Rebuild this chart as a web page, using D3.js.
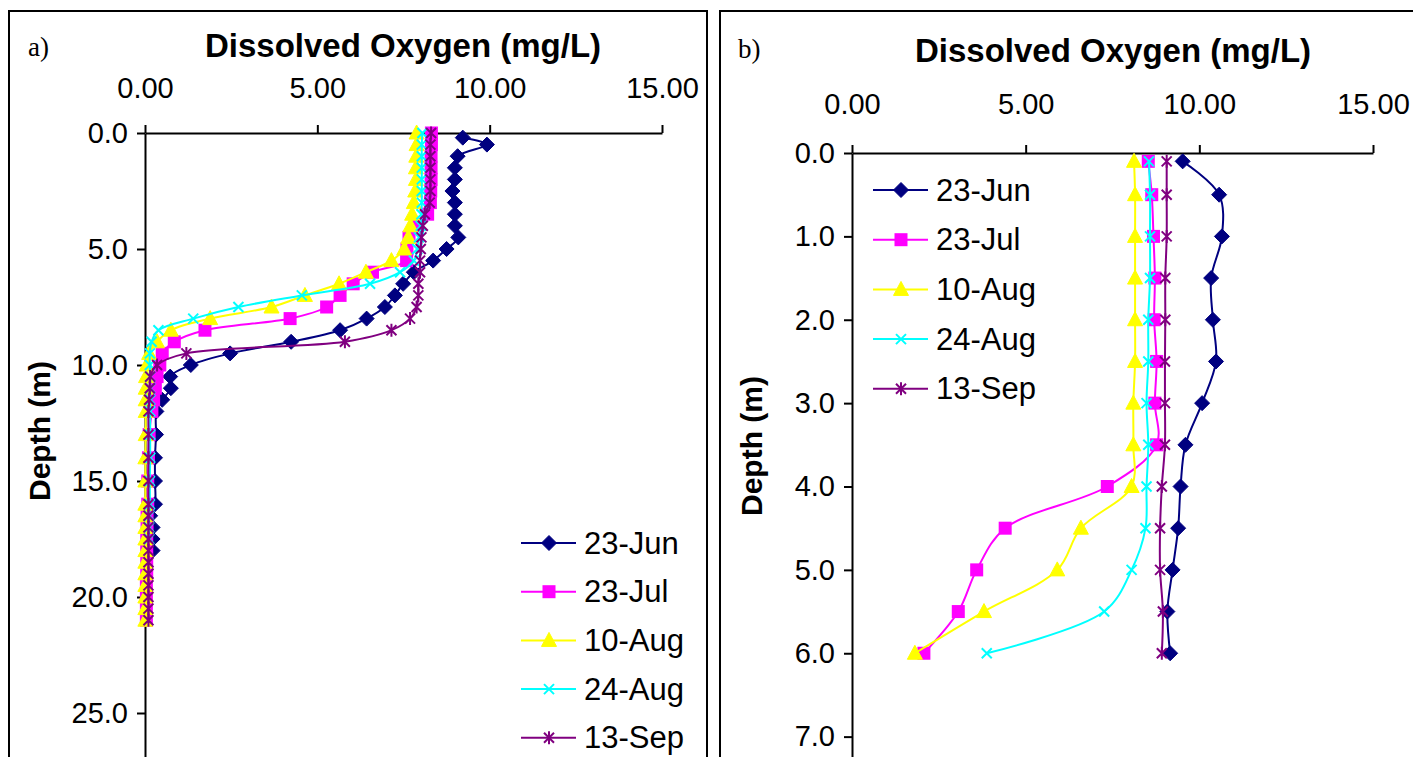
<!DOCTYPE html>
<html>
<head>
<meta charset="utf-8">
<script src="https://cdn.jsdelivr.net/npm/d3@7"></script>
<style>
  body { margin: 0; background: #fff; }
  text { font-family: "Liberation Sans", Arial, sans-serif; fill: #000; }
</style>
</head>
<body>
<div id="chart"></div>
<script>
// Dissolved oxygen profiles, two lakes

var W = 1413, H = 757;

var seriesNames = ["23-Jun", "23-Jul", "10-Aug", "24-Aug", "13-Sep"];
var seriesColors = ["#000080", "#ff00ff", "#ffff00", "#00ffff", "#800080"];
var seriesMarks = ["diamond", "square", "triangle", "cross", "star"];

// panel a) depths (m)
var depthA_jun = [0.2, 0.5, 1, 1.5, 2, 2.5, 3, 3.5, 4, 4.5, 5, 5.5, 6, 6.5, 7, 7.5, 8, 8.5, 9, 9.5, 10, 10.5, 11, 11.5, 12,
  13, 14, 15, 16, 16.5, 17, 17.5, 18];
var depthA_full = [0, 0.5, 1, 1.5, 2, 2.5, 3, 3.5, 4, 4.5, 5, 5.5, 6, 6.5, 7, 7.5, 8, 8.5, 9, 9.5, 10, 10.5, 11, 11.5, 12,
  13, 14, 15, 16, 16.5, 17, 17.5, 18, 18.5, 19, 19.5, 20, 20.5, 21];
var depthA_aug24 = [0, 0.5, 1, 1.5, 2, 2.5, 3, 3.5, 4, 4.5, 5, 5.5, 6, 6.5, 7, 7.5, 8, 8.5, 9, 9.5, 10, 10.5, 11, 11.5, 12,
  13, 14, 15, 16, 16.5, 17, 17.5];

// panel a) dissolved oxygen (mg/L)
var doA_jun = [9.22, 9.92, 9.07, 8.99, 8.99, 8.92, 8.99, 8.99, 8.99, 9.09, 8.75, 8.36, 7.80, 7.49, 7.25, 6.96, 6.43, 5.66,
  4.24, 2.47, 1.33, 0.73, 0.75, 0.50, 0.33, 0.32, 0.29, 0.29, 0.29, 0.15, 0.22, 0.22, 0.22];
var doA_jul = [8.31, 8.31, 8.30, 8.30, 8.30, 8.29, 8.28, 8.20, 7.88, 7.66, 7.60, 7.59, 6.60, 6.04, 5.66, 5.27, 4.21, 1.74,
  0.85, 0.50, 0.43, 0.35, 0.30, 0.25, 0.20, 0.12, 0.10, 0.08, 0.08, 0.06, 0.06, 0.05, 0.05, 0.05, 0.05, 0.04, 0.04, 0.04, 0.04];
var doA_aug10 = [7.88, 7.88, 7.87, 7.86, 7.86, 7.84, 7.80, 7.75, 7.70, 7.64, 7.52, 7.15, 6.41, 5.63, 4.64, 3.67, 1.89, 0.75,
  0.35, 0.12, 0.05, 0.03, 0.02, 0.02, 0.02, 0.02, 0.01, 0.01, 0.01, 0.01, 0.01, 0.01, 0.01, 0.01, 0.01, 0.01, 0.01, 0.01, 0.01];
var doA_aug24 = [8.05, 8.03, 8.03, 8.03, 8.03, 8.03, 8.03, 8.02, 8.00, 7.95, 7.90, 7.80, 7.40, 6.53, 4.55, 2.71, 1.40, 0.39,
  0.19, 0.14, 0.14, 0.15, 0.15, 0.15, 0.15, 0.15, 0.15, 0.14, 0.14, 0.12, 0.12, 0.12];
var doA_sep = [8.30, 8.28, 8.28, 8.28, 8.28, 8.28, 8.26, 8.12, 8.06, 8.02, 8.00, 7.98, 7.98, 7.93, 7.93, 7.88, 7.69, 7.15,
  5.80, 1.20, 0.35, 0.15, 0.14, 0.12, 0.10, 0.10, 0.10, 0.10, 0.10, 0.10, 0.10, 0.10, 0.10, 0.10, 0.10, 0.10, 0.10, 0.10, 0.10];

// panel b) depths and dissolved oxygen
var depthB = [0.1, 0.5, 1, 1.5, 2, 2.5, 3, 3.5, 4, 4.5, 5, 5.5, 6];
var doB_jun = [9.52, 10.57, 10.65, 10.34, 10.39, 10.48, 10.08, 9.60, 9.46, 9.39, 9.23, 9.08, 9.16];
var doB_jul = [8.53, 8.63, 8.68, 8.72, 8.70, 8.77, 8.72, 8.77, 7.35, 4.41, 3.59, 3.06, 2.07];
var doB_aug10 = [8.12, 8.15, 8.15, 8.15, 8.15, 8.15, 8.10, 8.10, 8.05, 6.59, 5.91, 3.80, 1.81];
var doB_aug24 = [8.55, 8.58, 8.58, 8.58, 8.53, 8.53, 8.48, 8.53, 8.48, 8.45, 8.05, 7.26, 3.88];
var doB_sep = [9.06, 9.06, 9.06, 9.02, 9.02, 9.01, 9.01, 9.01, 8.92, 8.87, 8.87, 8.95, 8.92];

var xTicks = [0, 5, 10, 15];
var yTicksA = [0, 5, 10, 15, 20, 25];
var yTicksB = [0, 1, 2, 3, 4, 5, 6, 7];

function zip(depths, vals) {
  return depths.map(function(d, i) { return { depth: d, v: vals[i] }; });
}

var svg = d3.select("#chart").append("svg")
  .attr("width", W)
  .attr("height", H);

function marker(g, type, color) {
  if (type == "diamond") {
    g.append("path").attr("d", "M0,-7.5L7.5,0L0,7.5L-7.5,0Z").style("fill", color).style("stroke", color);
  } else if (type == "square") {
    g.append("rect").attr("x", -6.5).attr("y", -6.5).attr("width", 13).attr("height", 13)
      .style("fill", color).style("stroke", "none");
  } else if (type == "triangle") {
    g.append("path").attr("d", "M0,-8L7.5,6L-7.5,6Z").style("fill", color).style("stroke", color);
  } else if (type == "cross") {
    g.append("path").attr("d", "M-5,-5L5,5M-5,5L5,-5").style("stroke", color).style("stroke-width", 2);
  } else {
    g.append("path").attr("d", "M-5,-5L5,5M-5,5L5,-5M0,-6.5L0,6.5").style("stroke", color).style("stroke-width", 2);
  }
}

function panel(opt) {
  var x = d3.scaleLinear().domain([0, 15]).range(opt.xr);
  var y = d3.scaleLinear().domain(opt.yd).range(opt.yr);

  // frame
  svg.append("rect")
    .attr("x", opt.frame[0]).attr("y", opt.frame[1])
    .attr("width", opt.frame[2]).attr("height", opt.frame[3])
    .style("fill", "none").style("stroke", "#000").style("stroke-width", 2);

  svg.append("text")
    .attr("x", opt.tag[0]).attr("y", opt.tag[1])
    .style("font-family", "'Liberation Serif', 'Times New Roman', serif")
    .style("font-size", "27px")
    .text(opt.tagText);

  svg.append("text")
    .attr("x", opt.title[0]).attr("y", opt.title[1])
    .attr("text-anchor", "middle")
    .style("font-size", "33px").style("font-weight", "bold")
    .text("Dissolved Oxygen (mg/L)");

  svg.append("text")
    .attr("transform", "translate(" + opt.ylab[0] + "," + opt.ylab[1] + ") rotate(-90)")
    .attr("text-anchor", "middle")
    .style("font-size", "30px").style("font-weight", "bold")
    .text("Depth (m)");

  var xAxis = svg.append("g")
    .attr("transform", "translate(0," + opt.yr[0] + ")")
    .call(d3.axisTop(x).tickValues(xTicks).tickSizeInner(8).tickSizeOuter(0)
      .tickFormat(d3.format(".2f")).tickPadding(opt.xPad));
  var yAxis = svg.append("g")
    .attr("transform", "translate(" + opt.xr[0] + ",0)")
    .call(d3.axisLeft(y).tickValues(opt.yTicks).tickSizeInner(8).tickSizeOuter(0)
      .tickFormat(d3.format(".1f")).tickPadding(9));
  [xAxis, yAxis].forEach(function(a) {
    a.selectAll("path, line").style("stroke", "#000").style("stroke-width", 2);
    a.selectAll("text").style("font-size", "29px").style("font-family", "'Liberation Sans', Arial, sans-serif")
      .style("fill", "#000");
  });

  var line = d3.line()
    .x(function(d) { return x(d.v); })
    .y(function(d) { return y(d.depth); })
    .curve(d3.curveCatmullRom.alpha(0.5));

  opt.data.forEach(function(s, i) {
    var g = svg.append("g").attr("class", "series");
    g.append("path")
      .datum(s)
      .attr("d", line)
      .style("fill", "none")
      .style("stroke", seriesColors[i])
      .style("stroke-width", 2);
    g.selectAll(".pt")
      .data(s)
    .enter().append("g")
      .attr("class", "pt")
      .attr("transform", function(d) { return "translate(" + x(d.v) + "," + y(d.depth) + ")"; })
      .each(function() { marker(d3.select(this), seriesMarks[i], seriesColors[i]); });
  });

  // legend
  var lg = svg.selectAll(".lg-" + opt.tagText[0])
    .data(seriesNames)
  .enter().append("g")
    .attr("transform", function(d, i) { return "translate(" + opt.leg[0] + "," + (opt.leg[1] + i * opt.leg[2]) + ")"; });
  lg.append("line")
    .attr("x1", 0).attr("x2", 55)
    .style("stroke", function(d, i) { return seriesColors[i]; })
    .style("stroke-width", 2);
  lg.append("g")
    .attr("transform", "translate(28,0)")
    .each(function(d, i) { marker(d3.select(this), seriesMarks[i], seriesColors[i]); });
  lg.append("text")
    .attr("x", 63).attr("y", 10.5)
    .style("font-size", "31px")
    .text(String);
}

panel({
  xr: [145, 662], yd: [0, 30], yr: [133, 829], yTicks: yTicksA,
  frame: [9, 11, 698, 800], tag: [28, 56], tagText: "a)",
  title: [403, 57], ylab: [50, 431], xPad: 27,
  leg: [521, 543, 48.7],
  data: [zip(depthA_jun, doA_jun), zip(depthA_full, doA_jul), zip(depthA_full, doA_aug10),
    zip(depthA_aug24, doA_aug24), zip(depthA_full, doA_sep)]
});

panel({
  xr: [852, 1373], yd: [0, 8], yr: [153, 820], yTicks: yTicksB,
  frame: [720, 11, 720, 800], tag: [738, 58], tagText: "b)",
  title: [1113, 62], ylab: [762, 446], xPad: 31,
  leg: [873, 190, 49.7],
  data: [zip(depthB, doB_jun), zip(depthB, doB_jul), zip(depthB, doB_aug10),
    zip(depthB, doB_aug24), zip(depthB, doB_sep)]
});
</script>
</body>
</html>
